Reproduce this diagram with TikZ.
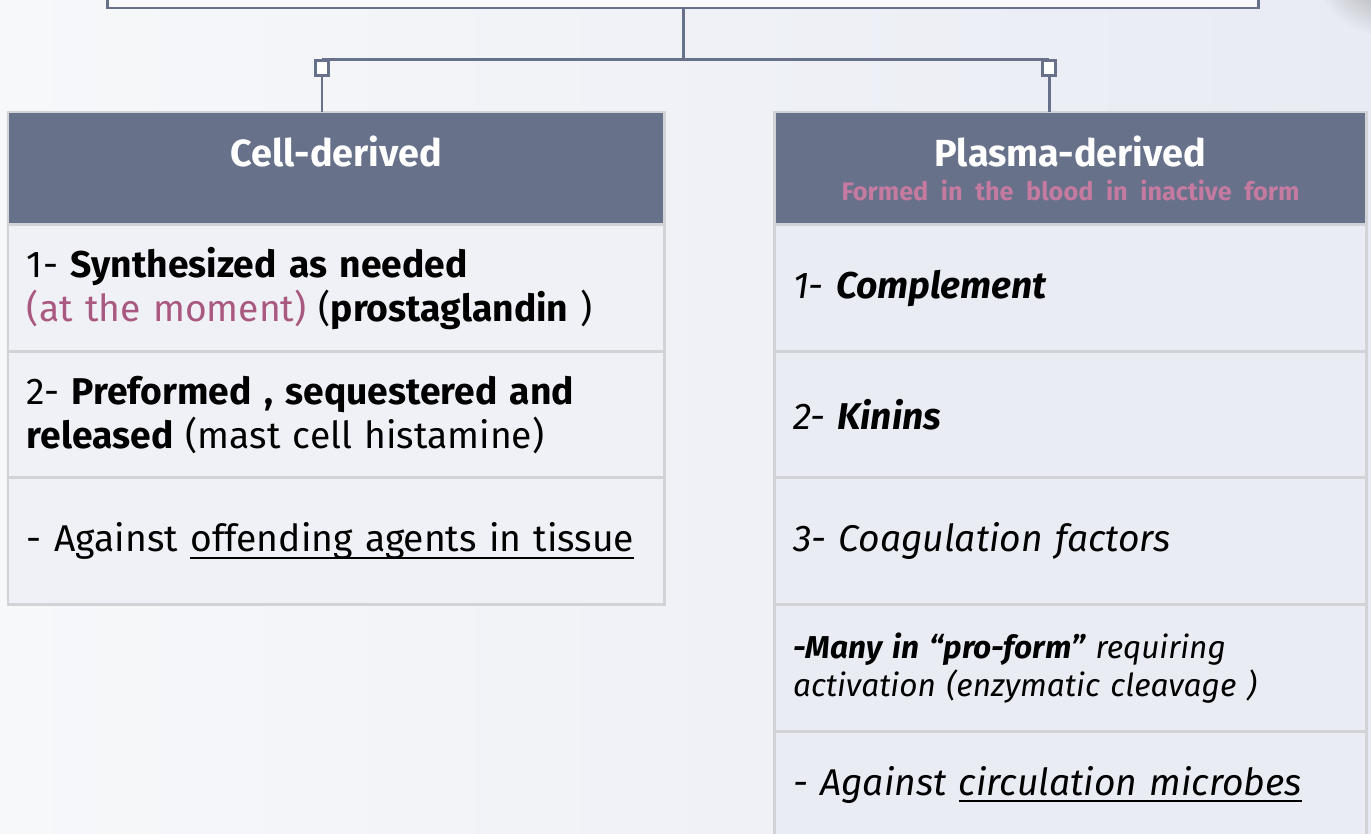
\documentclass[tikz,border=0pt]{standalone}
\usepackage{fontspec}
\setmainfont{Fira Sans}[WordSpace=0.78]
\usetikzlibrary{positioning}

\definecolor{slate}{HTML}{67718A}
\definecolor{cellline}{HTML}{D2D3D6}
\definecolor{fillL}{HTML}{EFF1F6}
\definecolor{fillR}{HTML}{E9ECF3}
\definecolor{bgL}{HTML}{F7F8FA}
\definecolor{bgR}{HTML}{E8EBF3}
\definecolor{pinkT}{HTML}{A9587F}
\definecolor{pinkS}{HTML}{C57AA0}

% underline with a thick rule, close to the baseline
\newcommand{\undl}[1]{\leavevmode\setbox0\hbox{#1}\dp0=0pt\vtop{\box0\kern2.6pt\hrule height 1.3pt}}

\begin{document}
\begin{tikzpicture}[
  x=0.02cm,
  y=-0.02cm,
  link/.style={draw=slate,line width=1.7pt},
  tab/.style={draw=slate,fill=white,line width=1.4pt,minimum width=0.26cm,minimum height=0.3cm,inner sep=0pt},
  topbox/.style={draw=slate,fill=white!95!gray,line width=1.7pt,minimum width=23.04cm,minimum height=1.2cm,outer sep=0pt},
  cell/.style={draw=cellline,line width=1.7pt,outer sep=0pt,inner xsep=0.38cm,
    align=left,font=\fontsize{21.2}{25}\selectfont,minimum height=2.54cm},
  cellL/.style={cell,fill=fillL,text width=12.38cm},
  cellR/.style={cell,fill=fillR,text width=11.10cm,font=\fontsize{21.2}{25}\selectfont\itshape},
  hdr/.style={cell,fill=slate,text=white,align=center,minimum height=2.26cm,
    font=\fontsize{21.5}{25}\selectfont\bfseries}
]

% Background
\fill[left color=bgL,right color=bgR] (0,0) rectangle (1371,834);
\useasboundingbox (0,0) rectangle (1371,834);
\shade[inner color=gray!85,outer color=bgR] (1390,-42) circle[radius=1.6cm];

% Top box and branches
\node[topbox,anchor=south] (top) at (683,8) {};
\node[tab] (tabL) at (322,68) {};
\node[tab] (tabR) at (1049,68) {};

% Cell-derived column
\node[hdr,text width=12.38cm,anchor=north west] (hdrL) at (8,112)
  {Cell-derived\\[-10pt]{\fontsize{14.4}{17}\selectfont\strut}};
\node[cellL,below=0 of hdrL] (l1)
  {1- \textbf{Synthesized as needed}\\\textcolor{pinkT}{(at the moment)} (\textbf{prostaglandin} )};
\node[cellL,below=0 of l1,minimum height=2.52cm] (l2)
  {2- \textbf{Preformed , sequestered and}\\\textbf{released} (mast cell histamine)};
\node[cellL,below=0 of l2] (l3)
  {- Against \undl{offending agents in tissue}};

% Plasma-derived column
\node[hdr,text width=11.10cm,anchor=north west] (hdrR) at (774,112)
  {Plasma-derived\\[-6pt]{\fontsize{14.4}{17}\selectfont\color{pinkS}Formed in the blood in inactive form}};
\node[cellR,below=0 of hdrR] (r1) {1- \textbf{Complement}};
\node[cellR,below=0 of r1,minimum height=2.52cm] (r2) {2- \textbf{Kinins}};
\node[cellR,below=0 of r2] (r3) {3- Coagulation factors};
\node[cellR,below=0 of r3,font=\fontsize{18}{21.6}\selectfont\itshape] (r4)
  {\textbf{-Many in “pro-form”} requiring\\activation (enzymatic cleavage )};
\node[cellR,below=0 of r4,minimum height=2.12cm] (r5)
  {- Against \undl{circulation microbes}};

% Connectors
\draw[link] (top.south) -- (top.south |- tabL.north);
\draw[link] (tabL.north) -- (tabR.north);
\draw[link] (tabL.south) -- (tabL.south |- hdrL.north);
\draw[link] (tabR.south) -- (tabR.south |- hdrR.north);

\end{tikzpicture}
\end{document}
